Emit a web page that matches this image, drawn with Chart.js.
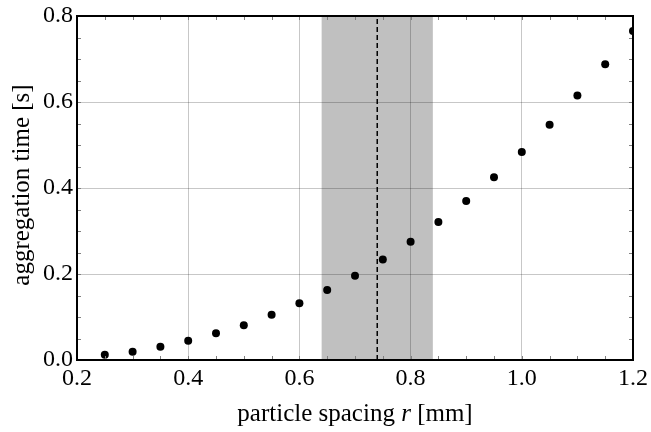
<!DOCTYPE html>
<html>
<head>
<meta charset="utf-8">
<script src="https://cdn.jsdelivr.net/npm/chart.js@4.4.1/dist/chart.umd.min.js"></script>
<style>
body{margin:0;background:#fff;}
</style>
</head>
<body>
<canvas id="canvas" width="651" height="432"></canvas>
<script>
// data
const spacing = [0.25,0.30,0.35,0.40,0.45,0.50,0.55,0.60,0.65,0.70,0.75,0.80,0.85,0.90,0.95,1.00,1.05,1.10,1.15,1.20];
const aggTime = [0.012,0.019,0.031,0.045,0.062,0.081,0.105,0.132,0.163,0.196,0.234,0.275,0.321,0.370,0.425,0.484,0.547,0.615,0.688,0.765];
const markerX = 0.74;
const bandFrom = 0.64;
const bandTo = 0.84;
const xRange = [0.2, 1.2];
const yRange = [0, 0.8];
const xTitleParts = ['particle spacing ', 'r', ' [mm]'];
const yTitle = 'aggregation time [s]';

const FONT = '"Liberation Serif", "Times New Roman", serif';

function isMajor(v){
	return Math.abs(v*5 - Math.round(v*5)) < 1e-6;
}

let framePlugin = {
	id: 'frame',
	beforeDraw(chart){
		let a = chart.chartArea, ctx = chart.ctx, xs = chart.scales.x;
		let x0 = xs.getPixelForValue(bandFrom), x1 = xs.getPixelForValue(bandTo);
		ctx.save();
		ctx.fillStyle = '#c0c0c0';
		ctx.fillRect(x0, a.top, x1-x0, a.bottom-a.top);
		ctx.restore();
	},
	afterDatasetsDraw(chart){
		let a = chart.chartArea, ctx = chart.ctx;
		let xs = chart.scales.x, ys = chart.scales.y;
		ctx.save();
		// small inward ticks on all four sides
		ctx.strokeStyle = '#808080';
		ctx.lineWidth = 1;
		ctx.beginPath();
		xs.ticks.forEach(function(t){
			let px = Math.round(xs.getPixelForValue(t.value)) + 0.5;
			ctx.moveTo(px, a.bottom); ctx.lineTo(px, a.bottom-4);
			ctx.moveTo(px, a.top); ctx.lineTo(px, a.top+4);
		});
		ys.ticks.forEach(function(t){
			let py = Math.round(ys.getPixelForValue(t.value)) + 0.5;
			ctx.moveTo(a.left, py); ctx.lineTo(a.left+4, py);
			ctx.moveTo(a.right, py); ctx.lineTo(a.right-4, py);
		});
		ctx.stroke();
		ctx.strokeStyle = '#000';
		ctx.lineWidth = 2;
		ctx.strokeRect(a.left, a.top, a.right-a.left, a.bottom-a.top);
		ctx.restore();
	},
	afterDraw(chart){
		let a = chart.chartArea, ctx = chart.ctx;
		ctx.save();
		ctx.fillStyle = '#000';
		ctx.textBaseline = 'alphabetic';
		// x title with italic r
		let fonts = ['25px ' + FONT, 'italic 25px ' + FONT, '25px ' + FONT];
		let total = 0, widths = [];
		xTitleParts.forEach(function(s, i){
			ctx.font = fonts[i];
			widths[i] = ctx.measureText(s).width;
			total += widths[i];
		});
		let x = (a.left + a.right)/2 - total/2;
		xTitleParts.forEach(function(s, i){
			ctx.font = fonts[i];
			ctx.fillText(s, x, 421);
			x += widths[i];
		});
		// y title
		ctx.translate(22, (a.top + a.bottom)/2 - 3);
		ctx.rotate(-Math.PI/2);
		ctx.font = '25px ' + FONT;
		ctx.textAlign = 'center';
		ctx.textBaseline = 'middle';
		ctx.fillText(yTitle, 0, 0);
		ctx.restore();
	}
};

let points = spacing.map(function(v, i){ return {x: v, y: aggTime[i]}; });

let ctx = document.getElementById('canvas').getContext('2d');
let chart = new Chart(ctx, {
	type: 'scatter',
	data: {
		datasets: [{
			label: 'aggregation time',
			data: points,
			backgroundColor: '#000',
			borderWidth: 0,
			pointRadius: 4,
			clip: 0,
			order: 0
		},{
			type: 'line',
			label: 'marker',
			data: [{x: markerX, y: yRange[0]}, {x: markerX, y: yRange[1]}],
			borderColor: '#000',
			borderWidth: 1.5,
			borderDash: [5, 3],
			pointRadius: 0,
			clip: 0,
			order: 1
		}]
	},
	options: {
		responsive: false,
		animation: false,
		events: [],
		layout: {padding: {top: 16, right: 18, left: 0, bottom: 0}},
		plugins: {legend: {display: false}, tooltip: {enabled: false}},
		scales: {
			x: {
				type: 'linear',
				min: xRange[0], max: xRange[1],
				border: {display: false},
				grid: {
					drawTicks: false,
					color: function(c){
						let v = c.tick ? c.tick.value : 0;
						return (isMajor(v) && v > xRange[0]+1e-6 && v < xRange[1]-1e-6) ? 'rgba(0,0,0,0.22)' : 'rgba(0,0,0,0)';
					}
				},
				ticks: {
					stepSize: 0.05,
					autoSkip: false,
					maxRotation: 0,
					padding: 4,
					color: '#000',
					font: {family: FONT, size: 24},
					callback: function(v){ return isMajor(v) ? v.toFixed(1) : ''; }
				},
				afterFit: function(s){ s.height = 72; s.paddingLeft = 0; s.paddingRight = 0; }
			},
			y: {
				type: 'linear',
				min: yRange[0], max: yRange[1],
				border: {display: false},
				grid: {
					drawTicks: false,
					color: function(c){
						let v = c.tick ? c.tick.value : 0;
						return (isMajor(v) && v > yRange[0]+1e-6 && v < yRange[1]-1e-6) ? 'rgba(0,0,0,0.22)' : 'rgba(0,0,0,0)';
					}
				},
				ticks: {
					stepSize: 0.05,
					autoSkip: false,
					padding: 4,
					color: '#000',
					font: {family: FONT, size: 24},
					callback: function(v){ return isMajor(v) ? v.toFixed(1) : ''; }
				},
				afterFit: function(s){ s.width = 77; s.paddingTop = 0; s.paddingBottom = 0; }
			}
		}
	},
	plugins: [framePlugin]
});
</script>
</body>
</html>
